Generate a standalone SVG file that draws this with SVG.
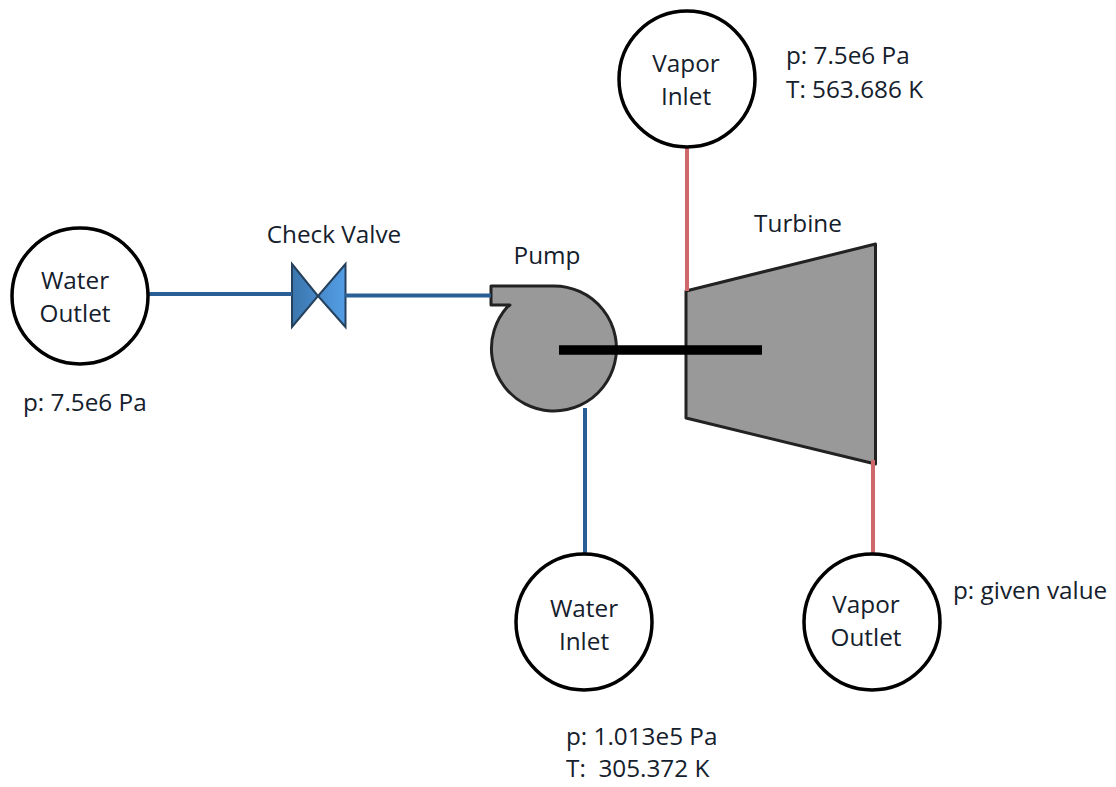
<svg xmlns="http://www.w3.org/2000/svg" width="1116" height="787" viewBox="0 0 1116 787">
<style>
text{font-family:"Open Sans","Noto Sans",sans-serif;font-size:24.3px;fill:#14202c;white-space:pre}
.c{text-anchor:middle}
.n{fill:#fff;stroke:#000;stroke-width:3.5}
.b{fill:none;stroke:#2a5f96;stroke-width:4}
.r{fill:none;stroke:#d0686a;stroke-width:4}
.m{fill:#999;stroke:#222;stroke-width:3;stroke-linejoin:round}
</style>
<defs>
<linearGradient id="valve"><stop offset="0" stop-color="#3a75ad"/><stop offset="1" stop-color="#549ee6"/></linearGradient>
</defs>
<rect width="1116" height="787" fill="#fff"/>
<g id="check-valve">
<path d="M292 264L318 296L292 327Z M345.500 264L318 296L345.500 327Z" fill="url(#valve)" stroke="#25415c" stroke-width="2"/>
<text class="c" x="334" y="243">Check Valve</text>
</g>
<g id="pump">
<path class="m" d="M491 286H553.500A62.500 62.500 0 1 1 507.200 307L510 305H491Z"/>
<text class="c" x="547" y="264">Pump</text>
</g>
<g id="turbine">
<path class="m" d="M686 291L875.500 244V464L686 418Z"/>
<text class="c" x="798" y="232">Turbine</text>
</g>
<path id="shaft" d="M559 350H762" stroke="#000" stroke-width="9.500"/>
<g id="connectors">
<path class="b" d="M148 294H292"/>
<path class="b" d="M345 295.500H491"/>
<path class="b" d="M585 408V553"/>
<path class="r" d="M687 146V291"/>
<path class="r" d="M873 460V553"/>
</g>
<g id="water-outlet"><circle class="n" cx="80" cy="296" r="68"/><text class="c" x="75" y="289">Water</text><text class="c" x="75" y="322">Outlet</text></g>
<text x="23" y="411">p: 7.5e6 Pa</text>
<g id="vapor-inlet"><circle class="n" cx="687" cy="79" r="68"/><text class="c" x="686" y="72">Vapor</text><text class="c" x="686" y="105">Inlet</text></g>
<text x="786" y="64">p: 7.5e6 Pa</text><text x="786" y="98">T: 563.686 K</text>
<g id="water-inlet"><circle class="n" cx="584" cy="622" r="68"/><text class="c" x="584" y="617">Water</text><text class="c" x="584" y="650">Inlet</text></g>
<text x="566" y="745">p: 1.013e5 Pa</text><text x="566" y="777">T:  305.372 K</text>
<g id="vapor-outlet"><circle class="n" cx="872" cy="622" r="68"/><text class="c" x="866" y="613">Vapor</text><text class="c" x="866" y="646">Outlet</text></g>
<text x="953" y="599">p: given value</text>
</svg>
